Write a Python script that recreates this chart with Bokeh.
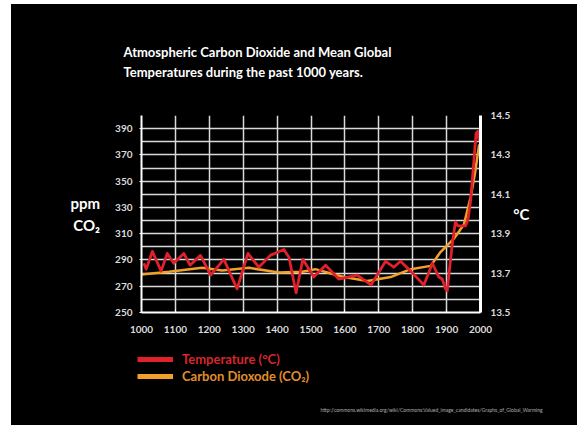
from bokeh.plotting import figure
from bokeh.models import (Range1d, LinearAxis, FixedTicker, PrintfTickFormatter,
                          Label, Legend, LegendItem, ColumnDataSource, Spacer, Title)
from bokeh.layouts import column, row
from bokeh.embed import file_html
from bokeh.resources import INLINE

# ---- data ----
temp_years = [1007, 1014, 1032, 1058, 1076, 1095, 1125, 1143, 1174, 1204, 1243, 1282,
              1314, 1346, 1380, 1420, 1435, 1456, 1476, 1508, 1543, 1582, 1636, 1677,
              1720, 1744, 1764, 1794, 1833, 1858, 1877, 1887, 1897, 1902, 1906, 1917,
              1926, 1933, 1956, 1963, 1971, 1981, 1987, 1992, 1996]
temp_vals = [13.75, 13.72, 13.81, 13.71, 13.80, 13.75, 13.80, 13.74, 13.79, 13.69, 13.77, 13.62,
             13.80, 13.73, 13.79, 13.82, 13.78, 13.60, 13.77, 13.68, 13.74, 13.67, 13.69, 13.64,
             13.76, 13.73, 13.76, 13.71, 13.64, 13.75, 13.68, 13.67, 13.62, 13.61, 13.68, 13.85,
             13.96, 13.94, 13.94, 13.97, 14.07, 14.28, 14.41, 14.42, 14.37]

co2_years = [1000, 1081, 1179, 1238, 1317, 1405, 1474, 1513, 1548, 1597, 1666, 1735,
             1794, 1853, 1882, 1921, 1951, 1971, 1985, 1996]
co2_vals = [279, 281, 284, 282, 284, 280.5, 281, 283, 280.5, 277, 274, 277,
            283, 285.5, 296, 306, 317, 338, 358, 378]

year_ticks = list(range(1000, 2001, 100))
ppm_ticks = list(range(250, 391, 20))
ppm_grid = list(range(250, 401, 10))
temp_ticks = [13.5, 13.7, 13.9, 14.1, 14.3, 14.5]

title_lines = ["Atmospheric Carbon Dioxide and Mean Global",
               "Temperatures during the past 1000 years."]
legend_labels = ["Temperature (°C)", "Carbon Dioxode (CO₂)"]
source_url = "http://commons.wikimedia.org/wiki/Commons:Valued_image_candidates/Graphs_of_Global_Warming"

FONT = "Lato"
RED = "#e0202a"
ORANGE = "#f3a02a"
W = 566

# ---------- main chart ----------
p = figure(width=W, height=341, output_backend="svg", toolbar_location=None,
           x_range=Range1d(1000, 2000), y_range=Range1d(250, 400),
           min_border_left=130, min_border_right=97, min_border_top=111, min_border_bottom=33)
p.background_fill_color = "black"
p.border_fill_color = "black"
p.outline_line_color = None
p.extra_y_ranges = {"temp": Range1d(13.5, 14.5)}

p.add_layout(Title(text="\n".join(title_lines), align="left", offset=-18, standoff=71,
                   text_color="white", text_font=FONT, text_font_size="13px",
                   text_font_style="bold", text_line_height=1.28), "above")

p.xgrid.ticker = FixedTicker(ticks=year_ticks)
p.ygrid.ticker = FixedTicker(ticks=ppm_grid)
for g in (p.xgrid, p.ygrid):
    g.grid_line_color = "#dadada"
    g.grid_line_width = 1.5


def style_axis(ax, lw):
    ax.axis_line_color = "white"
    ax.axis_line_width = lw
    ax.major_tick_line_color = "white"
    ax.minor_tick_line_color = None
    ax.major_label_text_color = "#dcdcdc"
    ax.major_label_text_font = FONT
    ax.major_label_text_font_style = "bold"
    ax.major_label_text_font_size = "10px"
    ax.axis_label_text_color = "white"
    ax.axis_label_text_font = FONT
    ax.axis_label_text_font_style = "bold"
    ax.axis_label_text_font_size = "15px"
    ax.axis_label_orientation = "horizontal"


xa = p.xaxis[0]
xa.ticker = FixedTicker(ticks=year_ticks)
style_axis(xa, 2)
xa.major_tick_in = 3
xa.major_tick_out = 0
xa.major_label_standoff = 13

ya = p.yaxis[0]
ya.ticker = FixedTicker(ticks=ppm_ticks)
style_axis(ya, 2)
ya.major_tick_in = 0
ya.major_tick_out = 2
ya.major_label_standoff = 7
ya.axis_label = "ppm\nCO₂"
ya.axis_label_standoff = 12

ra = LinearAxis(y_range_name="temp", ticker=FixedTicker(ticks=temp_ticks),
                formatter=PrintfTickFormatter(format="%.1f"))
style_axis(ra, 3)
ra.major_tick_in = 0
ra.major_tick_out = 0
ra.major_label_standoff = 10
ra.axis_label = "°C"
ra.axis_label_standoff = 0
p.add_layout(ra, "right")

co2_src = ColumnDataSource(dict(x=co2_years, y=co2_vals))
temp_src = ColumnDataSource(dict(x=temp_years, y=temp_vals))
p.line("x", "y", source=co2_src, line_color=ORANGE, line_width=2.5, line_join="round")
p.line("x", "y", source=temp_src, line_color=RED, line_width=2.8, line_join="round",
       y_range_name="temp")

# ---------- bottom: legend + source ----------
bot = figure(width=W, height=80, output_backend="svg", toolbar_location=None,
             x_axis_location=None, y_axis_location=None, min_border=0,
             x_range=Range1d(0, 1), y_range=Range1d(0, 1))
bot.grid.visible = False
bot.background_fill_color = "black"
bot.border_fill_color = "black"
bot.outline_line_color = None

# legend key renderers: the same series (they fall outside this panel's view,
# only their legend swatches are visible)
red_sw = bot.line("x", "y", source=temp_src, line_color=RED, line_width=5)
or_sw = bot.line("x", "y", source=co2_src, line_color=ORANGE, line_width=5)


def mk_legend(label, rend, color, vy):
    lg = Legend(items=[LegendItem(label=label, renderers=[rend])], location=(126, vy),
                background_fill_alpha=0, border_line_alpha=0, padding=0, margin=0,
                glyph_width=36, glyph_height=14, label_standoff=9, label_height=14,
                label_text_color=color, label_text_font=FONT, label_text_font_style="bold",
                label_text_font_size="13px")
    bot.add_layout(lg, "center")


mk_legend(legend_labels[0], red_sw, "#d8262c", 58)
mk_legend(legend_labels[1], or_sw, "#e08f2a", 41.3)
bot.add_layout(Label(x=309, y=16, x_units="screen", y_units="screen", text=source_url,
                     text_color="#b0b0b0", text_font=FONT, text_font_size="5px",
                     text_baseline="middle"))

inner = column(p, row(bot), styles={"background-color": "black"})
layout = column(Spacer(height=4), row(Spacer(width=11), inner))
open("out.html", "w").write(file_html(layout, INLINE))
